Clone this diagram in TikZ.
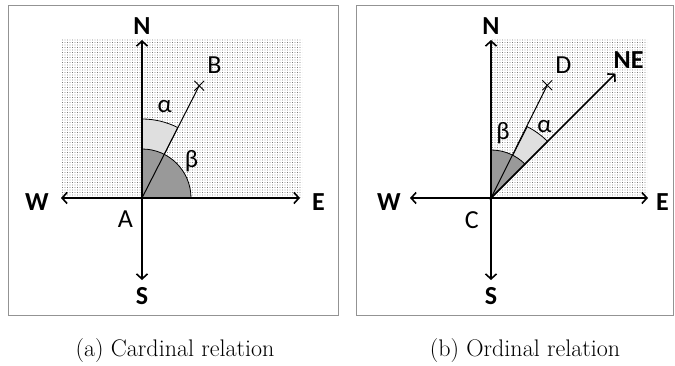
\documentclass[tikz,border=0pt]{standalone}
\usepackage{fontspec}
\newfontfamily\calibri{Carlito}
\usepackage{tikz}
\usetikzlibrary{positioning,arrows.meta,patterns.meta,shapes.misc}
\tikzset{
    panel/.style={draw=gray!85, line width=1pt},
    stipple/.style={pattern={Dots[distance=2.5pt, radius=0.45pt]}, pattern color=black!80},
    axis/.style={-{Straight Barb[length=5pt, width=11pt]}, line width=1.6pt},
    ray/.style={line width=1pt},
    lightsec/.style={fill=gray!25, draw=black, line width=0.8pt},
    darksec/.style={fill=gray!80, draw=black, line width=0.8pt},
    crossmark/.style={cross out, draw, line width=0.8pt, minimum size=9pt, inner sep=0pt},
    dirlab/.style={font=\calibri\bfseries\fontsize{26}{26}\selectfont, inner sep=0pt},
    ptlab/.style={font=\calibri\fontsize{26}{26}\selectfont, inner sep=0pt},
    anglab/.style={font=\calibri\fontsize{25}{25}\selectfont, inner sep=0pt},
    caption/.style={font=\fontsize{24}{28}\selectfont, inner sep=0pt, anchor=base}
}
\begin{document}
\begin{tikzpicture}[x=1pt, y=1pt]
    \useasboundingbox (0,0) rectangle (675,365);
    % (a) cardinal relation
    \draw[panel] (8,50) rectangle (338,359);
    \fill[stipple] (62,167) rectangle (302,325);
    \coordinate (A) at (142,167);
    \coordinate (An) at (142,325);
    \coordinate (Ae) at (300,167);
    \coordinate (As) at (142,85);
    \coordinate (Aw) at (61,167);
    \filldraw[lightsec] (A) -- ++(90:79pt) arc[start angle=90, end angle=63, radius=79pt] -- cycle;
    \filldraw[darksec] (A) -- ++(90:49pt) arc[start angle=90, end angle=0, radius=49pt] -- cycle;
    \path (A) ++(63:126pt) node[crossmark] (B) {};
    \draw[ray] (A) -- (B.center);
    \draw[axis] (A) -- (An);
    \draw[axis] (A) -- (Ae);
    \draw[axis] (A) -- (As);
    \draw[axis] (A) -- (Aw);
    \node[dirlab, above=5pt of An] (aN) {N};
    \node[dirlab, right=12pt of Ae, yshift=-4pt] (aE) {E};
    \node[dirlab, below=7pt of As] (aS) {S};
    \node[dirlab, left=12pt of Aw, yshift=-4pt] (aW) {W};
    \node[ptlab, below left=13pt and 9pt of A] (aA) {A};
    \node[ptlab, above right=12pt and 8pt of B.center] (aB) {B};
    \path (A) ++(76:94pt) node[anglab] (aalpha) {α};
    \path (A) ++(37:62pt) node[anglab] (abeta) {β};
    \node[caption] (capa) at (175,9) {(a) Cardinal relation};
    % (b) ordinal relation
    \draw[panel] (356,50) rectangle (673,359);
    \fill[stipple] (491,167) rectangle (647,325);
    \coordinate (C) at (491,167);
    \coordinate (Cn) at (491,325);
    \coordinate (Ce) at (648,167);
    \coordinate (Cs) at (491,85);
    \coordinate (Cw) at (410,167);
    \path (C) ++(45:176pt) coordinate (Cne);
    \filldraw[lightsec] (C) -- ++(63:80pt) arc[start angle=63, end angle=45, radius=80pt] -- cycle;
    \filldraw[darksec] (C) -- ++(90:48pt) arc[start angle=90, end angle=45, radius=48pt] -- cycle;
    \path (C) ++(63.5:126pt) node[crossmark] (D) {};
    \draw[ray] (C) -- (D.center);
    \draw[axis] (C) -- (Cn);
    \draw[axis] (C) -- (Ce);
    \draw[axis] (C) -- (Cs);
    \draw[axis] (C) -- (Cw);
    \draw[axis] (C) -- (Cne);
    \node[dirlab, above=5pt of Cn] (bN) {N};
    \node[dirlab, right=8pt of Ce, yshift=-4pt] (bE) {E};
    \node[dirlab, below=7pt of Cs] (bS) {S};
    \node[dirlab, left=9pt of Cw, yshift=-4pt] (bW) {W};
    \node[dirlab, above right=5pt and -2pt of Cne] (bNE) {NE};
    \node[ptlab, below left=13pt and 12pt of C] (bC) {C};
    \node[ptlab, above right=12pt and 8pt of D.center] (bD) {D};
    \path (C) ++(53:89pt) node[anglab] (balpha) {α};
    \path (C) ++(79.5:66pt) node[anglab] (bbeta) {β};
    \node[caption] (capb) at (525,9) {(b) Ordinal relation};
\end{tikzpicture}
\end{document}
